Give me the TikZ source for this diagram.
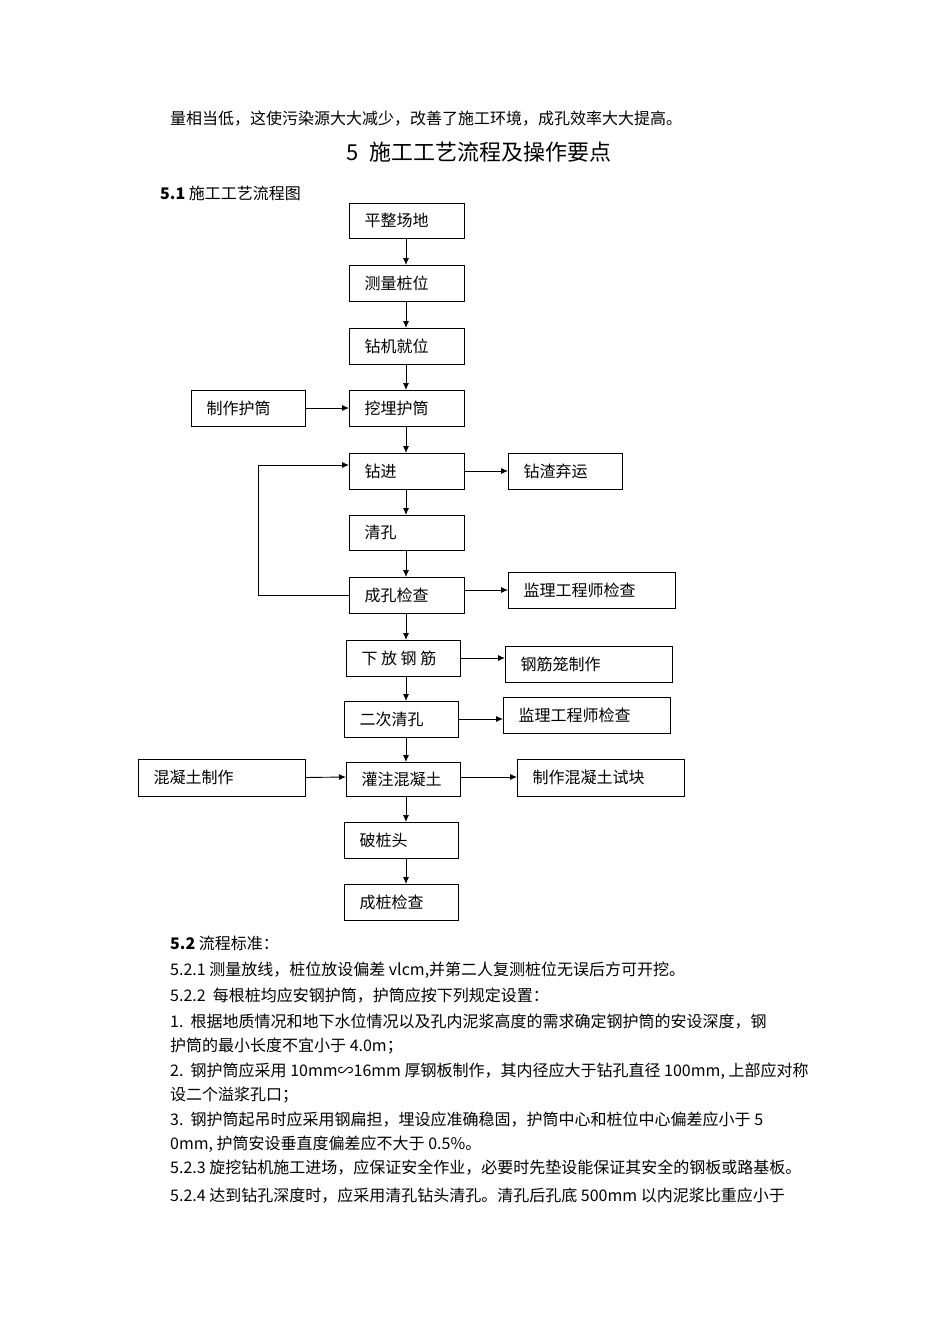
\documentclass[tikz,border=0pt]{standalone}
\usepackage{fontspec}
\usetikzlibrary{arrows.meta}
\setmainfont{Noto Sans CJK SC}
\begin{document}
\begin{tikzpicture}[x=1pt,y=-1pt,
 lb/.style={anchor=west,font=\fontsize{16}{16}\selectfont},
 tx/.style={anchor=west,inner sep=0pt,font=\fontsize{16}{16}\selectfont},
 ar/.style={-{Latex[length=7pt,width=6pt]},line width=0.9pt}]
\useasboundingbox (0,0) rectangle (950,1344);
\newcommand\bxx[6]{\draw[line width=0.9pt] (#2,#3) rectangle (#4,#5); \node[lb] (#1) at (#2+12,{(#3+#5)/2}) {#6};
 \coordinate (#1L) at (#2,{(#3+#5)/2}); \coordinate (#1R) at (#4,{(#3+#5)/2});}
\node[tx] (t0) at (170,119) {量相当低，这使污染源大大减少，改善了施工环境，成孔效率大大提高。};
\node[inner sep=0pt,font=\fontsize{22}{22}\selectfont] (t1) at (479,152) {5\ \ 施工工艺流程及操作要点};
\node[tx] (t2) at (160,193) {\textbf{5.1} 施工工艺流程图};
\bxx{a}{349}{203}{464}{238}{平整场地}
\bxx{b}{349}{265}{464}{301}{测量桩位}
\bxx{c}{349}{328}{464}{364}{钻机就位}
\bxx{d}{349}{390}{464}{426}{挖埋护筒}
\bxx{d2}{191}{390}{305}{426}{制作护筒}
\bxx{e}{349}{453}{464}{489}{钻进}
\bxx{e2}{508}{453}{622}{489}{钻渣弃运}
\bxx{f}{349}{515}{464}{550}{清孔}
\bxx{g}{349}{577}{464}{613}{成孔检查}
\bxx{g2}{508}{572}{675}{608}{监理工程师检查}
\bxx{h}{346}{640}{460}{676}{下 放 钢 筋}
\bxx{h2}{505}{646}{672}{682}{钢筋笼制作}
\bxx{i}{344}{701}{458}{737}{二次清孔}
\bxx{i2}{503}{697}{670}{733}{监理工程师检查}
\bxx{j}{346}{762}{460}{796}{灌注混凝土}
\bxx{j2}{138}{759}{305}{796}{混凝土制作}
\bxx{j3}{517}{759}{684}{796}{制作混凝土试块}
\bxx{k}{344}{822}{458}{858}{破桩头}
\bxx{l}{344}{884}{458}{920}{成桩检查}
\foreach \p/\q in {238/265,301/328,364/390,426/453,489/515,550/577,613/640,676/701,737/762,796/822,858/884}
  \draw[ar] (406,\p) -- (406,\q);
\draw[ar] (d2R) -- (dL);
\draw[ar] (eR) -- (e2L);
\draw[ar] (464,590) -- (508,590);
\draw[ar] (460,658) -- (505,658);
\draw[ar] (458,719) -- (503,719);
\draw[ar] (j2R) -- (346,777);
\draw[ar] (460,777) -- (517,777);
\draw[ar] (gL) -- (258,595) -- (258,465) -- (349,465);
\foreach \yy/\t in {943/{\textbf{5.2} 流程标准：},
970/{5.2.1 测量放线，桩位放设偏差 vlcm,并第二人复测桩位无误后方可开挖。},
996/{5.2.2\ \ 每根桩均应安钢护筒，护筒应按下列规定设置：},
1022/{1.\ \ 根据地质情况和地下水位情况以及孔内泥浆高度的需求确定钢护筒的安设深度，钢},
1046/{护筒的最小长度不宜小于 4.0m；},
1071/{2.\ \ 钢护筒应采用 10mm∽16mm 厚钢板制作，其内径应大于钻孔直径 100mm, 上部应对称},
1095/{设二个溢浆孔口；},
1120/{3.\ \ 钢护筒起吊时应采用钢扁担，埋设应准确稳固，护筒中心和桩位中心偏差应小于 5},
1144/{0mm, 护筒安设垂直度偏差应不大于 0.5\%。},
1168/{5.2.3 旋挖钻机施工进场，应保证安全作业，必要时先垫设能保证其安全的钢板或路基板。},
1196/{5.2.4 达到钻孔深度时，应采用清孔钻头清孔。清孔后孔底 500mm 以内泥浆比重应小于}}
  \node[tx] at (170,\yy) {\t};
\end{tikzpicture}
\end{document}
